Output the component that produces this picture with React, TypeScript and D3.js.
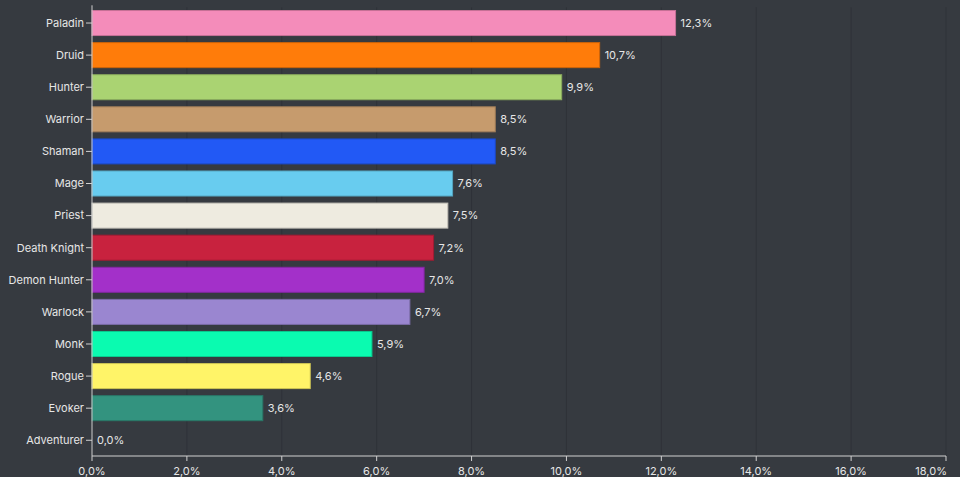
import React from "react";
import * as d3 from "d3";

const classes = ["Paladin","Druid","Hunter","Warrior","Shaman","Mage","Priest","Death Knight","Demon Hunter","Warlock","Monk","Rogue","Evoker","Adventurer"];
const shares = [12.3,10.7,9.9,8.5,8.5,7.6,7.5,7.2,7.0,6.7,5.9,4.6,3.6,0.0];
const colors = ["#F48CBA","#FF7C0A","#AAD372","#C69B6D","#2259F5","#68CCEF","#EEEBE0","#C8223E","#A330C9","#9A86D0","#0AFBB0","#FFF468","#33937F","#888888"];
const xTicks = [0,2,4,6,8,10,12,14,16,18];

const W = 960, H = 477;
const left = 92, right = 946, top = 7.3, bottom = 456;

const fmt = (v: number) => v.toFixed(1).replace(".", ",") + "%";

export default function App() {
  const x = d3.scaleLinear().domain([0, 18]).range([left, right]);
  const y = d3.scaleBand<string>().domain(classes).range([top, bottom]).paddingInner(0.22).paddingOuter(0.1);
  const bw = y.bandwidth();
  const font = "Inter, 'Noto Sans', Arial, sans-serif";
  return (
    <svg width={W} height={H} style={{ position: "absolute", left: 0, top: 0, background: "#363a40" }}>
      <rect x={0} y={0} width={W} height={H} fill="#363a40" />
      {xTicks.map((t) => (
        <line key={"g" + t} x1={x(t)} x2={x(t)} y1={top} y2={bottom} stroke="#2f3238" strokeWidth={1} />
      ))}
      {classes.map((c, i) => {
        const fill = colors[i];
        const yy = y(c)!;
        const w = x(shares[i]) - x(0);
        return (
          <g key={c}>
            {shares[i] > 0 && (
              <rect x={x(0)} y={yy} width={w} height={bw} fill={fill}
                stroke={d3.color(fill)!.darker(0.6).formatHex()} strokeWidth={1} />
            )}
            <text x={x(shares[i]) + 5} y={yy + bw / 2} dy="0.35em" fill="#e6e6e6" fontSize={11} fontFamily={font}>
              {fmt(shares[i])}
            </text>
            <line x1={left - 6} x2={left} y1={yy + bw / 2} y2={yy + bw / 2} stroke="#d0d0d0" strokeWidth={1} />
            <text x={left - 8} y={yy + bw / 2} dy="0.35em" textAnchor="end" fill="#e6e6e6" fontSize={11} fontFamily={font}>
              {c}
            </text>
          </g>
        );
      })}
      <line x1={left} x2={left} y1={top - 2} y2={bottom} stroke="#d0d0d0" strokeWidth={1} />
      <line x1={left} x2={right} y1={bottom} y2={bottom} stroke="#d0d0d0" strokeWidth={1} />
      {xTicks.map((t, i) => {
        const last = i === xTicks.length - 1;
        return (
          <g key={"t" + t}>
            <line x1={x(t)} x2={x(t)} y1={bottom} y2={bottom + 5} stroke="#d0d0d0" strokeWidth={1} />
            <text x={last ? x(t) + 1 : x(t)} y={bottom + 11} dy="0.71em" textAnchor={last ? "end" : "middle"}
              fill="#e6e6e6" fontSize={11} fontFamily={font}>
              {fmt(t)}
            </text>
          </g>
        );
      })}
    </svg>
  );
}
